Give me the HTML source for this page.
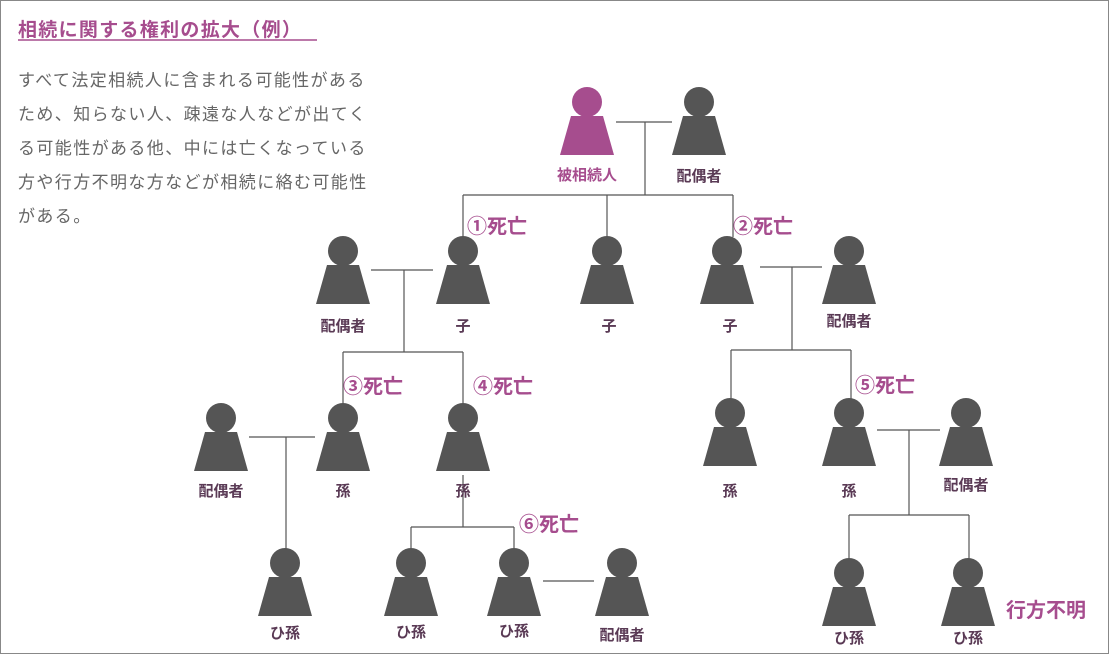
<!DOCTYPE html>
<html><head><meta charset="utf-8"><style>
body{margin:0;background:#fff}
svg{display:block}
text{font-family:"Liberation Sans","Noto Sans CJK JP",sans-serif}
.l{fill:#5a3a55;font-size:15px;font-weight:bold;text-anchor:middle}
.d{fill:#a64d8e;font-size:20px;font-weight:bold}
.p{fill:#666;font-size:17px;letter-spacing:1.4px}
line{stroke:#555;stroke-width:1.2}
</style></head><body>
<svg width="1109" height="654" viewBox="0 0 1109 654" xmlns="http://www.w3.org/2000/svg">
<rect x="0.5" y="0.5" width="1108" height="653" fill="#fff" stroke="#888"/>
<text x="18" y="36" style="fill:#a64d8e;font-size:19px;font-weight:bold;letter-spacing:1.3px">相続に関する権利の拡大（例）</text>
<line x1="18" y1="40" x2="317" y2="40" style="stroke:#a64d8e;stroke-width:1.5"/>
<text x="18" y="86" class="p">すべて法定相続人に含まれる可能性がある</text>
<text x="18" y="120" class="p">ため、知らない人、疎遠な人などが出てく</text>
<text x="18" y="154" class="p">る可能性がある他、中には亡くなっている</text>
<text x="18" y="188" class="p">方や行方不明な方などが相続に絡む可能性</text>
<text x="18" y="222" class="p">がある。</text>
<!-- lines -->
<line x1="616" y1="122" x2="672" y2="122"/>
<line x1="645" y1="122" x2="645" y2="195"/>
<line x1="463" y1="195" x2="733" y2="195"/>
<line x1="463" y1="195" x2="463" y2="237"/>
<line x1="607" y1="195" x2="607" y2="237"/>
<line x1="733" y1="195" x2="733" y2="237"/>
<line x1="371" y1="270" x2="433" y2="270"/>
<line x1="404" y1="270" x2="404" y2="352"/>
<line x1="343" y1="352" x2="463" y2="352"/>
<line x1="343" y1="352" x2="343" y2="404"/>
<line x1="463" y1="352" x2="463" y2="404"/>
<line x1="760" y1="267" x2="822" y2="267"/>
<line x1="792" y1="267" x2="792" y2="350"/>
<line x1="731" y1="350" x2="851" y2="350"/>
<line x1="731" y1="350" x2="731" y2="400"/>
<line x1="851" y1="350" x2="851" y2="400"/>
<line x1="249" y1="437" x2="315" y2="437"/>
<line x1="286" y1="437" x2="286" y2="550"/>
<line x1="463" y1="475" x2="463" y2="527"/>
<line x1="411" y1="527" x2="514" y2="527"/>
<line x1="411" y1="527" x2="411" y2="550"/>
<line x1="514" y1="527" x2="514" y2="550"/>
<line x1="543" y1="581" x2="594" y2="581"/>
<line x1="877" y1="430" x2="940" y2="430"/>
<line x1="909" y1="430" x2="909" y2="515"/>
<line x1="849" y1="515" x2="969" y2="515"/>
<line x1="849" y1="515" x2="849" y2="560"/>
<line x1="969" y1="515" x2="969" y2="560"/>
<defs>
<g id="pp"><circle cx="0" cy="15" r="15"/><polygon points="-16,29 16,29 27,68 -27,68"/></g>
</defs>
<use href="#pp" x="587" y="87" fill="#a64d8e"/>
<g fill="#555">
<use href="#pp" x="699" y="87"/>
<use href="#pp" x="343" y="236"/>
<use href="#pp" x="463" y="236"/>
<use href="#pp" x="607" y="236"/>
<use href="#pp" x="727" y="236"/>
<use href="#pp" x="849" y="236"/>
<use href="#pp" x="221" y="403"/>
<use href="#pp" x="343" y="403"/>
<use href="#pp" x="463" y="403"/>
<use href="#pp" x="730" y="398"/>
<use href="#pp" x="849" y="398"/>
<use href="#pp" x="966" y="398"/>
<use href="#pp" x="285" y="548"/>
<use href="#pp" x="411" y="548"/>
<use href="#pp" x="514" y="548"/>
<use href="#pp" x="622" y="548"/>
<use href="#pp" x="849" y="558"/>
<use href="#pp" x="968" y="558"/>
</g>
<text class="l" x="587" y="180" style="fill:#a64d8e">被相続人</text>
<text class="l" x="699" y="181">配偶者</text>
<text class="l" x="343" y="331">配偶者</text>
<text class="l" x="463" y="331">子</text>
<text class="l" x="609" y="331">子</text>
<text class="l" x="730" y="331">子</text>
<text class="l" x="849" y="326">配偶者</text>
<text class="l" x="221" y="496">配偶者</text>
<text class="l" x="343" y="496">孫</text>
<text class="l" x="463" y="496">孫</text>
<text class="l" x="730" y="496">孫</text>
<text class="l" x="849" y="496">孫</text>
<text class="l" x="966" y="490">配偶者</text>
<text class="l" x="285" y="638">ひ孫</text>
<text class="l" x="411" y="637">ひ孫</text>
<text class="l" x="514" y="636">ひ孫</text>
<text class="l" x="622" y="640">配偶者</text>
<text class="l" x="849" y="643">ひ孫</text>
<text class="l" x="968" y="643">ひ孫</text>
<text class="d" x="467" y="233">①死亡</text>
<text class="d" x="733" y="233">②死亡</text>
<text class="d" x="343" y="393">③死亡</text>
<text class="d" x="473" y="393">④死亡</text>
<text class="d" x="855" y="392">⑤死亡</text>
<text class="d" x="519" y="531">⑥死亡</text>
<text class="d" x="1006" y="617">行方不明</text>
</svg>
</body></html>
